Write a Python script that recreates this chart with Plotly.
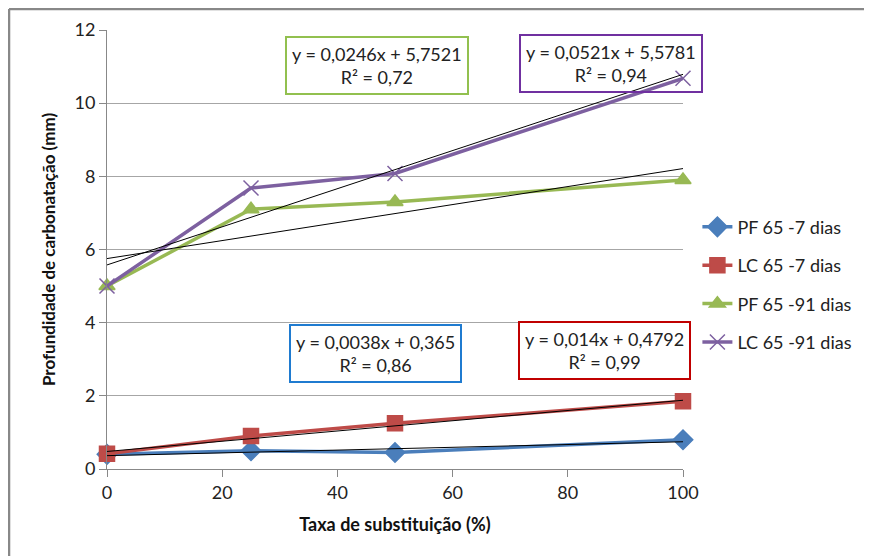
import plotly.graph_objects as go

x_vals = [0, 25, 50, 100]
series_names = ["PF 65 -7 dias", "LC 65 -7 dias", "PF 65 -91 dias", "LC 65 -91 dias"]
pf7 = [0.40, 0.50, 0.45, 0.80]
lc7 = [0.42, 0.90, 1.25, 1.85]
pf91 = [5.00, 7.10, 7.30, 7.90]
lc91 = [5.00, 7.68, 8.08, 10.68]

slopes = [0.0038, 0.014, 0.0246, 0.0521]
intercepts = [0.365, 0.4792, 5.7521, 5.5781]
r2 = ["0,86", "0,99", "0,72", "0,94"]
eq_text = ["y = 0,0038x + 0,365", "y = 0,014x + 0,4792", "y = 0,0246x + 5,7521", "y = 0,0521x + 5,5781"]

x_ticks = [0, 20, 40, 60, 80, 100]
y_ticks = [0, 2, 4, 6, 8, 10, 12]

colors = ["#4A7EBB", "#BE4B48", "#98B954", "#7D60A0"]
box_colors = ["#1F7BD0", "#C00000", "#92C04F", "#7030A0"]
symbols = ["diamond", "square", "triangle-up", "x-thin-open"]
sizes = [15, 15, 14, 15]
FONT = "Lato, 'Open Sans', sans-serif"

fig = go.Figure()
data = [pf7, lc7, pf91, lc91]
for i, (name, ys) in enumerate(zip(series_names, data)):
    fig.add_trace(go.Scatter(
        x=x_vals, y=ys, name=name, mode="lines+markers",
        line=dict(color=colors[i], width=3.5),
        marker=dict(symbol=symbols[i], size=sizes[i], color=colors[i],
                    line=dict(color=colors[i], width=1.5)),
        legendgroup=name, cliponaxis=False,
    ))

for i in range(4):
    tx = [x_vals[0], x_vals[-1]]
    ty = [slopes[i] * t + intercepts[i] for t in tx]
    fig.add_trace(go.Scatter(x=tx, y=ty, mode="lines", showlegend=False,
                             line=dict(color="black", width=1), hoverinfo="skip"))

ann_pos = [(0.466, 0.264), (0.863, 0.270), (0.469, 0.918), (0.875, 0.923)]
for i in range(4):
    fig.add_annotation(
        xref="paper", yref="paper", x=ann_pos[i][0], y=ann_pos[i][1],
        text=eq_text[i] + "<br>R² = " + r2[i], showarrow=False,
        font=dict(family=FONT, size=18, color="#222"),
        bordercolor=box_colors[i], borderwidth=2, borderpad=5,
        bgcolor="rgba(255,255,255,0)", align="center",
        xanchor="center", yanchor="middle",
    )

# outer chart border (top and left edges visible in the reference)
fig.add_shape(type="line", xref="paper", yref="paper",
              x0=-0.1701, y0=1.0478, x1=1.4, y1=1.0478,
              line=dict(color="#888888", width=2.5), layer="below")
fig.add_shape(type="line", xref="paper", yref="paper",
              x0=-0.1701, y0=1.0478, x1=-0.1701, y1=-0.25,
              line=dict(color="#888888", width=2.5), layer="below")

fig.update_layout(
    width=864, height=548,
    margin=dict(l=99, r=189, t=22, b=87, autoexpand=False),
    paper_bgcolor="white", plot_bgcolor="white",
    font=dict(family=FONT, size=18, color="#222"),
    showlegend=True,
    legend=dict(x=1.025, y=0.42, xanchor="left", yanchor="middle",
                font=dict(family=FONT, size=18, color="#222"),
                traceorder="grouped", tracegroupgap=12,
                bgcolor="rgba(0,0,0,0)"),
    xaxis=dict(range=[0, 100], tickvals=x_ticks, showgrid=False,
               showline=True, linecolor="#888", linewidth=1,
               ticks="outside", ticklen=7, tickcolor="#888",
               tickfont=dict(size=18, color="#222"), zeroline=False,
               automargin=False,
               title=dict(text="<b>Taxa de substituição (%)</b>",
                          font=dict(size=18, color="#111"), standoff=16)),
    yaxis=dict(range=[0, 12], tickvals=y_ticks, showgrid=True,
               gridcolor="#A6A6A6", gridwidth=1,
               showline=True, linecolor="#888", linewidth=1,
               ticks="outside", ticklen=7, tickcolor="#888",
               tickfont=dict(size=18, color="#222"), zeroline=False,
               automargin=False,
               title=dict(text="<b>Profundidade de carbonatação (mm)</b>",
                          font=dict(size=17, color="#111"), standoff=14)),
)

fig.write_html("out.html")
